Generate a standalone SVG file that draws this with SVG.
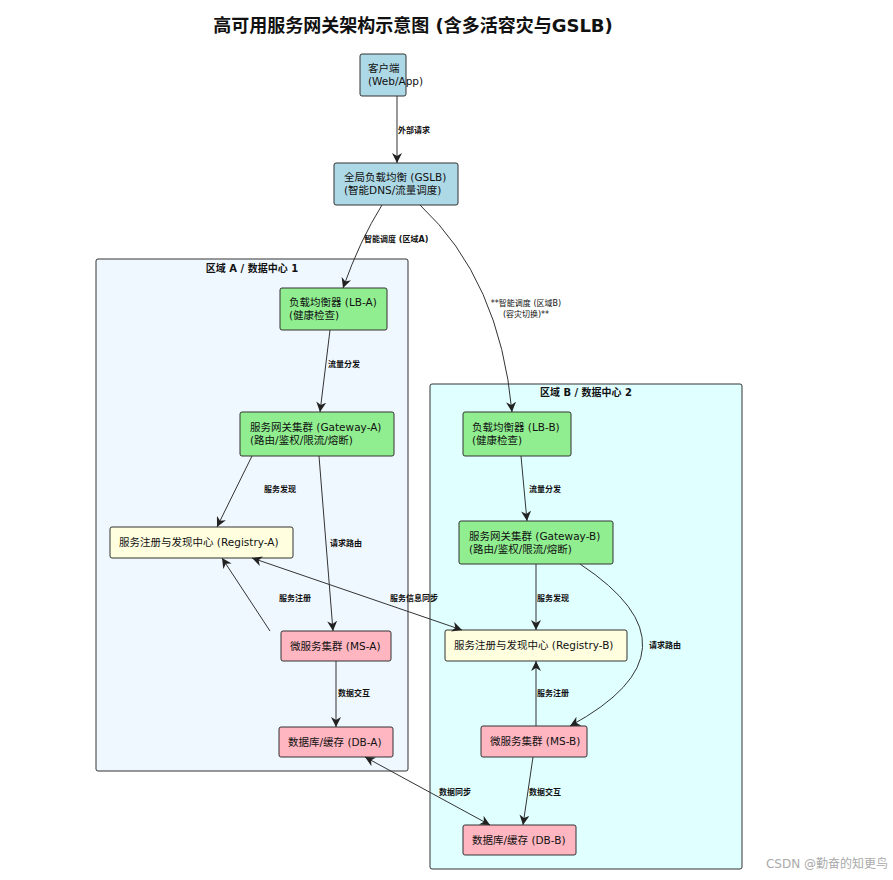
<svg xmlns="http://www.w3.org/2000/svg" width="893" height="880" viewBox="0 0 893 880">
<defs>
<marker id="ah" viewBox="0 0 10 10" refX="10" refY="5" markerWidth="10" markerHeight="10" markerUnits="userSpaceOnUse" orient="auto-start-reverse">
<path d="M0,0 L10,5 L0,10 L3,5 z" fill="#222"/>
</marker>
<style>
text{font-family:"DejaVu Sans","Noto Sans CJK SC",sans-serif;fill:#111}
.n{font-size:10.5px}
.l{font-size:8px;font-weight:bold}
.c{font-size:10px;font-weight:bold}
.box{stroke:#333;stroke-width:1}
.e{fill:none;stroke:#333;stroke-width:1;marker-end:url(#ah)}
.b{marker-start:url(#ah)}
</style>
</defs>
<rect width="893" height="880" fill="#fff"/>
<text x="413" y="32" text-anchor="middle" style="font-size:18px;font-weight:bold">高可用服务网关架构示意图 (含多活容灾与GSLB)</text>
<g id="clusterA"><rect x="96" y="259" width="312" height="512" rx="2" fill="#F0F8FF" class="box"/><text x="252" y="272" text-anchor="middle" class="c">区域 A / 数据中心 1</text></g>
<g id="clusterB"><rect x="430" y="384" width="312" height="485" rx="2" fill="#E0FFFF" class="box"/><text x="586" y="396" text-anchor="middle" class="c">区域 B / 数据中心 2</text></g>
<g id="client"><rect x="360" y="54" width="46" height="42" rx="2" fill="#ADD8E6" class="box"/><text class="n" x="368" y="72">客户端</text><text class="n" x="368" y="85">(Web/App)</text></g>
<g id="gslb"><rect x="334" y="163" width="124" height="42" rx="2" fill="#ADD8E6" class="box"/><text class="n" x="344" y="181">全局负载均衡 (GSLB)</text><text class="n" x="344" y="194">(智能DNS/流量调度)</text></g>
<g id="lbA"><rect x="280" y="288" width="107" height="42" rx="2" fill="#90EE90" class="box"/><text class="n" x="289" y="306">负载均衡器 (LB-A)</text><text class="n" x="289" y="319">(健康检查)</text></g>
<g id="gwA"><rect x="240" y="412" width="154" height="44" rx="2" fill="#90EE90" class="box"/><text class="n" x="250" y="431">服务网关集群 (Gateway-A)</text><text class="n" x="250" y="444">(路由/鉴权/限流/熔断)</text></g>
<g id="regA"><rect x="110" y="527" width="183" height="31" rx="2" fill="#FFFFE0" class="box"/><text class="n" x="119" y="546">服务注册与发现中心 (Registry-A)</text></g>
<g id="msA"><rect x="281" y="631" width="110" height="30" rx="2" fill="#FFB6C1" class="box"/><text class="n" x="290" y="650">微服务集群 (MS-A)</text></g>
<g id="dbA"><rect x="279" y="727" width="114" height="30" rx="2" fill="#FFB6C1" class="box"/><text class="n" x="288" y="746">数据库/缓存 (DB-A)</text></g>
<g id="lbB"><rect x="463" y="412" width="108" height="44" rx="2" fill="#90EE90" class="box"/><text class="n" x="472" y="431">负载均衡器 (LB-B)</text><text class="n" x="472" y="444">(健康检查)</text></g>
<g id="gwB"><rect x="459" y="521" width="154" height="43" rx="2" fill="#90EE90" class="box"/><text class="n" x="469" y="540">服务网关集群 (Gateway-B)</text><text class="n" x="469" y="553">(路由/鉴权/限流/熔断)</text></g>
<g id="regB"><rect x="445" y="630" width="182" height="31" rx="2" fill="#FFFFE0" class="box"/><text class="n" x="454" y="649">服务注册与发现中心 (Registry-B)</text></g>
<g id="msB"><rect x="481" y="726" width="106" height="31" rx="2" fill="#FFB6C1" class="box"/><text class="n" x="490" y="745">微服务集群 (MS-B)</text></g>
<g id="dbB"><rect x="463" y="825" width="113" height="30" rx="2" fill="#FFB6C1" class="box"/><text class="n" x="472" y="844">数据库/缓存 (DB-B)</text></g>
<g id="edges">
<path class="e" d="M397,96 L397,163"/>
<path class="e" d="M382,205 Q360,240 343,288"/>
<path class="e" d="M420,205 Q500,280 512,412"/>
<path class="e" d="M330,330 L320,412"/>
<path class="e" d="M252,456 L217,527"/>
<path class="e" d="M319,456 L333,631"/>
<path class="e" d="M270,631 L222,558"/>
<path class="e b" d="M252,558 L462,630"/>
<path class="e" d="M336,661 L336,727"/>
<path class="e b" d="M365,757 L490,825"/>
<path class="e" d="M521,456 L527,521"/>
<path class="e" d="M536,564 L536,630"/>
<path class="e" d="M580,564 Q710,650 570,726"/>
<path class="e" d="M536,726 L536,661"/>
<path class="e" d="M533,757 L523,825"/>
</g>
<g id="labels">
<text class="l" x="398" y="133">外部请求</text>
<text class="l" x="364" y="242">智能调度 (区域A)</text>
<text x="526" y="306" text-anchor="middle" style="font-size:8px">**智能调度 (区域B)</text>
<text x="526" y="317" text-anchor="middle" style="font-size:8px">(容灾切换)**</text>
<text class="l" x="328" y="367">流量分发</text>
<text class="l" x="264" y="492">服务发现</text>
<text class="l" x="330" y="546">请求路由</text>
<text class="l" x="279" y="601">服务注册</text>
<text class="l" x="390" y="601">服务信息同步</text>
<text class="l" x="338" y="696">数据交互</text>
<text class="l" x="439" y="795">数据同步</text>
<text class="l" x="529" y="492">流量分发</text>
<text class="l" x="537" y="601">服务发现</text>
<text class="l" x="649" y="648">请求路由</text>
<text class="l" x="537" y="696">服务注册</text>
<text class="l" x="529" y="795">数据交互</text>
</g>
<text x="888" y="868" text-anchor="end" style="font-size:12px;fill:#aaa">CSDN @勤奋的知更鸟</text>
</svg>
